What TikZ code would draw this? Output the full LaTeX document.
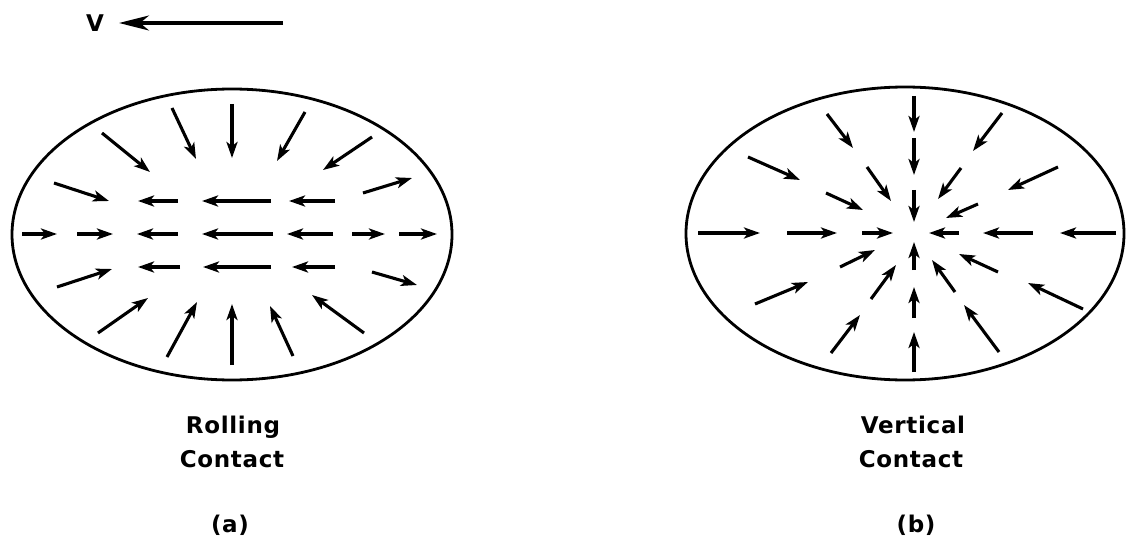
\documentclass[tikz,border=0pt]{standalone}
\usepackage{fontspec}
\setmainfont{DejaVu Sans}[LetterSpace=3]
\usetikzlibrary{arrows.meta}
\begin{document}
\begin{tikzpicture}[x=1pt,y=-1pt,
  fl/.style={line width=3.1pt,-{Stealth[length=16pt,width=11pt,inset=4pt]}},
  rim/.style={line width=2.8pt},
  lab/.style={anchor=base,inner sep=0pt,font=\fontsize{23}{28}\selectfont\bfseries}]
\useasboundingbox (0,0) rectangle (1126,540);
% velocity indicator
\node[lab] (v) at (95,32) {V};
\coordinate (vtail) at (283,23);
\coordinate (vtip) at (119,23);
\draw[fl,-{Stealth[length=30pt,width=15pt,inset=9pt]}] (vtail) -- (vtip);
% (a) rolling contact
\coordinate (ca) at (232,234.5);
\draw[rim] (ca) ellipse [x radius=220, y radius=145.5];
\foreach \a/\b/\c/\d in {102/133/150/172, 172/108/196/159, 232/104/232/158, 305/112/277/161, 372/137/323/170,
 54/183/109/201, 178/201/138/201, 271/201/202/201, 335/201/289/201, 363/193/412/178,
 22/234/57/234, 77/234/113/234, 178/234/137/234, 273/234/202/234, 333/234/287/234, 352/234/385/234, 399/234/437/234,
 57/287/112/269, 180/267/138/267, 271/267/203/267, 335/267/292/267, 372/272/417/285,
 98/333/148/298, 167/357/197/302, 232/365/232/304, 293/356/270/306, 364/333/312/295}
  \draw[fl] (\a,\b) -- (\c,\d);
\node[lab] (rolling) at (233,433) {Rolling};
\node[lab] (contacta) at (232,467) {Contact};
\node[lab] (capa) at (230,532) {(a)};
% (b) vertical contact
\coordinate (cb) at (905,233.5);
\draw[rim] (cb) ellipse [x radius=219, y radius=146.5];
\foreach \a/\b/\c/\d in {914/96/914/132, 914/138/914/175, 914/190/914/222,
 827/114/853/148, 1002/113/973/151, 748/157/800/180, 1058/167/1008/190, 867/167/891/201, 961/168/938/199, 826/193/863/210, 978/204/946/218,
 698/233/760/233, 787/233/837/233, 862/233/893/233, 959/233/929/233, 1033/233/983/233, 1116/233/1060/233,
 840/267/875/250, 998/272/959/254, 871/299/896/265, 955/292/932/260, 755/304/808/282, 1083/309/1028/283, 831/353/860/315, 999/352/964/305,
 914/270/914/242, 914/318/914/287, 914/372/914/332}
  \draw[fl] (\a,\b) -- (\c,\d);
\node[lab] (vertical) at (913,433) {Vertical};
\node[lab] (contactb) at (911,467) {Contact};
\node[lab] (capb) at (916,532) {(b)};
\end{tikzpicture}
\end{document}
